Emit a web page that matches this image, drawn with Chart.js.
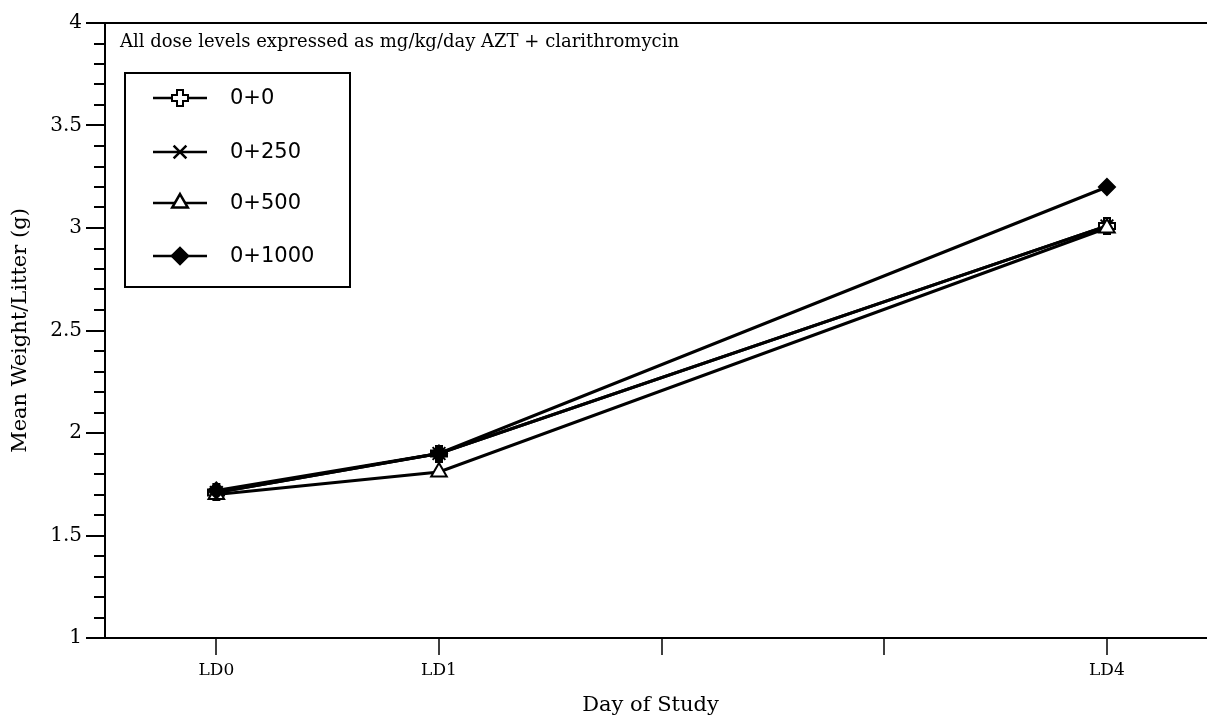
<!DOCTYPE html>
<html>
<head>
<meta charset="utf-8">
<script src="https://cdn.jsdelivr.net/npm/chart.js@4"></script>
<style>
  html, body { margin: 0; padding: 0; background: #fff; }
  #wrap { width: 1207px; height: 718px; }
</style>
</head>
<body>
<div id="wrap"><canvas id="weightChart" width="1207" height="718"></canvas></div>
<script>
// values
var studyDays = [0, 1, 4];
var dayTickLabels = ['LD0', 'LD1', '', '', 'LD4'];
var seriesNames = ['0+0', '0+250', '0+500', '0+1000'];
var dose0 = [1.71, 1.90, 3.01];
var dose250 = [1.71, 1.90, 3.01];
var dose500 = [1.70, 1.81, 3.00];
var dose1000 = [1.72, 1.90, 3.20];
var noteText = 'All dose levels expressed as mg/kg/day AZT + clarithromycin';

// open plus marker
function makePlus() {
    var c = document.createElement('canvas');
    c.width = 18; c.height = 18;
    var g = c.getContext('2d');
    g.beginPath();
    g.moveTo(6, 1); g.lineTo(12, 1); g.lineTo(12, 6); g.lineTo(17, 6); g.lineTo(17, 12);
    g.lineTo(12, 12); g.lineTo(12, 17); g.lineTo(6, 17); g.lineTo(6, 12); g.lineTo(1, 12);
    g.lineTo(1, 6); g.lineTo(6, 6); g.closePath();
    g.fillStyle = '#fff'; g.fill();
    g.lineWidth = 2; g.strokeStyle = '#000'; g.stroke();
    return c;
}
var plusImg = makePlus();

function toPoints(vals) {
    return vals.map((v, i) => ({ x: studyDays[i], y: v }));
}

var markerStyles = [
    { pointStyle: plusImg, radius: 9, bg: '#fff' },
    { pointStyle: 'crossRot', radius: 9, bg: '#000' },
    { pointStyle: 'triangle', radius: 9, bg: '#fff' },
    { pointStyle: 'rectRot', radius: 8, bg: '#000' }
];
var allSeries = [dose0, dose250, dose500, dose1000];

var datasets = allSeries.map((vals, i) => ({
    label: seriesNames[i],
    data: toPoints(vals),
    order: 3 - i,
    borderColor: '#000',
    borderWidth: 3,
    pointStyle: markerStyles[i].pointStyle,
    pointRadius: markerStyles[i].radius,
    pointBackgroundColor: markerStyles[i].bg,
    pointBorderColor: '#000',
    pointBorderWidth: 2,
    tension: 0,
    fill: false
}));

// frame, tick marks, note and boxed legend
var decorPlugin = {
    id: 'decor',
    afterDatasetsDraw(chart) {
        const ctx = chart.ctx;
        const a = chart.chartArea;
        const ys = chart.scales.y, xs = chart.scales.x;
        const farRight = chart.width;
        ctx.save();
        ctx.strokeStyle = '#000';
        ctx.lineWidth = 2;
        ctx.beginPath();
        ctx.moveTo(a.left, a.top); ctx.lineTo(farRight, a.top);
        ctx.moveTo(a.left, a.top); ctx.lineTo(a.left, a.bottom); ctx.lineTo(farRight, a.bottom);
        ctx.stroke();

        // y ticks every 0.1, longer every 0.5
        ctx.lineWidth = 2;
        ctx.beginPath();
        for (let k = 10; k <= 40; k++) {
            const py = Math.round(ys.getPixelForValue(k / 10));
            const len = (k % 5 === 0) ? 19 : 11;
            ctx.moveTo(a.left - len, py); ctx.lineTo(a.left, py);
        }
        ctx.stroke();
        // x ticks
        ctx.lineWidth = 1.5;
        ctx.beginPath();
        for (let d = 0; d <= 4; d++) {
            const px = Math.round(xs.getPixelForValue(d));
            ctx.moveTo(px, a.bottom); ctx.lineTo(px, a.bottom + 17);
        }
        ctx.stroke();

        // note
        ctx.fillStyle = '#000';
        ctx.font = '18px "DejaVu Serif"';
        ctx.textBaseline = 'alphabetic';
        ctx.textAlign = 'left';
        ctx.fillText(noteText, 120, 47);

        // legend box
        ctx.lineWidth = 2;
        ctx.strokeRect(125, 73, 225, 214);
        const rows = [98, 152, 203, 256];
        ctx.font = '21px "DejaVu Sans"';
        ctx.textBaseline = 'middle';
        seriesNames.forEach((name, i) => {
            const y = rows[i];
            ctx.lineWidth = 2.5;
            ctx.strokeStyle = '#000';
            ctx.beginPath(); ctx.moveTo(153, y); ctx.lineTo(207, y); ctx.stroke();
            ctx.fillStyle = markerStyles[i].bg;
            Chart.helpers.drawPoint(ctx, {
                pointStyle: markerStyles[i].pointStyle,
                radius: markerStyles[i].radius,
                borderWidth: 2,
                rotation: 0
            }, 180, y);
            ctx.fillStyle = '#000';
            ctx.fillText(name, 230, y + 1);
        });
        ctx.restore();
    }
};

new Chart(document.getElementById('weightChart'), {
    type: 'line',
    data: { datasets: datasets },
    options: {
        responsive: false,
        animation: false,
        layout: { padding: { top: 23, right: 0, bottom: 0, left: 0 } },
        scales: {
            x: {
                type: 'linear',
                min: -0.5,
                max: 4.40,
                grid: { display: false, drawTicks: false },
                border: { display: false },
                afterBuildTicks: function (scale) {
                    scale.ticks = dayTickLabels.map((t, i) => ({ value: i }));
                },
                afterFit: function (scale) {
                    scale.height = 80;
                    scale.paddingLeft = 0;
                    scale.paddingRight = 0;
                },
                ticks: {
                    padding: 22,
                    color: '#000',
                    font: { family: 'DejaVu Serif', size: 17 },
                    callback: function (v) { return dayTickLabels[v] || ''; }
                },
                title: {
                    display: true,
                    text: 'Day of Study',
                    color: '#000',
                    font: { family: 'DejaVu Serif', size: 21 },
                    padding: { top: 0, bottom: 0 }
                }
            },
            y: {
                min: 1,
                max: 4,
                grid: { display: false, drawTicks: false },
                border: { display: false },
                afterFit: function (scale) {
                    scale.width = 105;
                    scale.paddingTop = 0;
                    scale.paddingBottom = 0;
                },
                ticks: {
                    stepSize: 0.5,
                    padding: 23,
                    color: '#000',
                    font: { family: 'DejaVu Serif', size: 20 },
                    callback: function (v) { return String(v); }
                },
                title: {
                    display: true,
                    text: 'Mean Weight/Litter (g)',
                    color: '#000',
                    font: { family: 'DejaVu Serif', size: 21 },
                    padding: { top: 8, bottom: 0 }
                }
            }
        },
        plugins: {
            legend: { display: false },
            tooltip: { enabled: false }
        }
    },
    plugins: [decorPlugin]
});
</script>
</body>
</html>
